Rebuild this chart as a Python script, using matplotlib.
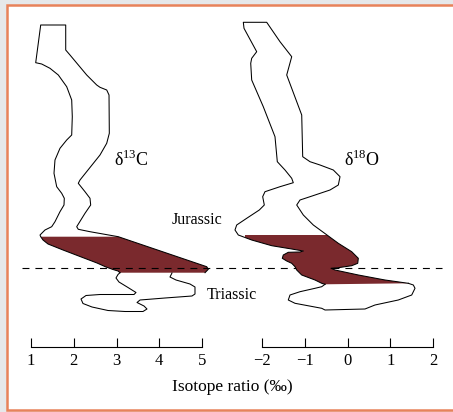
import matplotlib
matplotlib.use("Agg")
import matplotlib.pyplot as plt
from matplotlib.patches import Rectangle, Polygon
from matplotlib.transforms import blended_transform_factory

plt.rcParams['font.family'] = ['Liberation Serif', 'DejaVu Serif']
plt.rcParams['mathtext.fontset'] = 'custom'
plt.rcParams['mathtext.rm'] = 'Liberation Serif'
plt.rcParams['axes.unicode_minus'] = True

# level = stratigraphic position (arbitrary units, increasing downward)
# ---- delta 13C band ----
c_left_level = [25, 62.7, 64, 68.3, 75, 86.7, 100, 116.7, 135, 140, 148.3, 160, 173.3,
                186.7, 193.3, 198.3, 205, 211.7, 221.7, 226.7, 230, 235, 236.7,
                240, 244, 250, 256.5, 263, 267, 269.5, 271, 272.7]
c_left_val = [1.227, 1.110, 1.250, 1.444, 1.639, 1.835, 1.952, 1.966, 1.952, 1.835, 1.678,
              1.561, 1.538, 1.601, 1.718, 1.779, 1.772, 1.678, 1.561, 1.484, 1.327, 1.211,
              1.227, 1.281, 1.398, 1.749, 2.146, 2.544, 2.754, 2.918, 3.035, 3.082]
c_right_level = [25, 50, 55, 75, 85, 87.3, 90, 95, 133.3, 143.3, 155, 180, 183.3, 191.7,
                 198.3, 205, 213.3, 226.7, 229.3, 231.7, 236.7, 266.7, 269.3, 272.7]
c_right_val = [1.812, 1.812, 1.912, 2.303, 2.537, 2.614, 2.771, 2.825, 2.832, 2.771, 2.614,
               2.146, 2.106, 2.263, 2.380, 2.396, 2.263, 2.069, 2.106, 2.380, 3.042, 5.110,
               5.147, 5.070]
c_base_level = [272.7, 274.5, 278, 282, 287.5, 292.5, 294.5, 294.5, 294.5, 295.5, 299, 303.5,
                307, 310.5, 311.5, 311.5, 309, 306, 302.5, 300, 298, 296, 294, 287, 284,
                280, 277, 273]
c_base_val = [3.082, 3.035, 2.988, 3.058, 3.269, 3.456, 3.409, 3.082, 2.614, 2.287, 2.170,
              2.216, 2.427, 2.801, 3.199, 3.620, 3.713, 3.643, 3.480, 3.550, 4.135, 4.766,
              4.836, 4.836, 4.719, 4.392, 4.251, 4.298]
c_shade = (236.7, 272.7)

# ---- delta 18O band ----
o_left_level = [22.3, 28.3, 51.7, 58.3, 63.3, 80, 106.7, 136.7, 161.7, 170, 178.3, 182.7,
                186.7, 191.7, 196.7, 205, 210, 218.3, 225, 230, 235,
                240, 245.7, 249, 251, 252, 252.3, 255, 258.3, 261, 263.3, 266.7, 270, 275,
                280, 283.3, 284.3]
o_left_val = [-2.437, -2.421, -2.124, -2.241, -2.264, -2.241, -1.970, -1.696, -1.642,
              -1.462, -1.305, -1.268, -1.579, -1.930, -1.984, -1.946, -2.063, -2.358,
              -2.592, -2.632, -2.554,
              -2.241, -1.773, -1.305, -1.034, -1.111, -1.385, -1.502, -1.525, -1.422,
              -1.305, -1.228, -1.188, -1.071, -0.760, -0.603, -0.526]
o_right_level = [22.3, 41.7, 56.7, 75, 115, 156.7, 161.7, 165, 170, 176.7, 185, 190, 196.7,
                 200, 205, 215, 225, 235, 243.3, 251.7, 258.3, 263.3, 265.7, 267.7, 268.3,
                 270, 275, 280, 283.3]
o_right_val = [-1.890, -1.579, -1.305, -1.422, -1.071, -1.048, -0.877, -0.643, -0.332,
               -0.175, -0.215, -0.409, -0.877, -1.111, -1.188, -1.034, -0.800, -0.480,
               -0.215, 0.098, 0.253, 0.239, 0.098, -0.215, -0.386, -0.292, 0.253, 0.877,
               1.422]
o_base_level = [284.3, 286.7, 288.3, 291.7, 295, 300, 303.3, 308.3, 310, 309, 305, 300,
                295, 288.3, 285, 283.3]
o_base_val = [-0.526, -0.603, -0.760, -1.111, -1.345, -1.385, -1.228, -0.603, -0.526,
              0.409, 0.643, 1.188, 1.502, 1.579, 1.540, 1.422]
o_shade = (235, 284.3)

boundary_level = 268
c_ticks = [1, 2, 3, 4, 5]
o_ticks = [-2, -1, 0, 1, 2]

W, H = 453, 412
fig = plt.figure(figsize=(W / 100, H / 100), dpi=100)
fig.patch.set_facecolor('#e6e8ea')
frame = Rectangle((7 / W, 1 - 409.5 / H), 1.2, (409.5 - 5) / H,
                  transform=fig.transFigure, facecolor='white',
                  edgecolor='#e8825a', lw=1.8, zorder=-5)
fig.patches.append(frame)

PX = 42.75  # pixels per permil
axis_y = 347


def make_axes(x0_px, val0, lo, hi):
    left = x0_px + (lo - val0) * PX
    ax = fig.add_axes([left / W, (H - axis_y) / H, (hi - lo) * PX / W, axis_y / H])
    ax.set_xlim(lo, hi)
    ax.set_ylim(axis_y, 0)
    ax.patch.set_visible(False)
    for s in ['top', 'left', 'right']:
        ax.spines[s].set_visible(False)
    ax.spines['bottom'].set_linewidth(0.8)
    ax.set_yticks([])
    ax.tick_params(axis='x', direction='in', length=6.5, width=0.8, pad=4, labelsize=12)
    return ax


dark = '#7a292d'


def draw_band(ax, ll, lv, rl, rv, bl, bv, shade):
    top, bot = shade
    pts = [(v, l) for l, v in zip(ll, lv) if top <= l <= bot]
    pts += [(v, l) for l, v in reversed(list(zip(rl, rv))) if top <= l <= bot]
    ax.add_patch(Polygon(pts, closed=True, facecolor=dark, edgecolor='none', zorder=2))
    ax.plot(lv[::-1] + rv, ll[::-1] + rl, color='black', lw=0.75, zorder=3, clip_on=False)
    ax.plot(bv, bl, color='black', lw=0.75, zorder=3, clip_on=False)


ax1 = make_axes(31, 1, 0.5, 5.5)
ax1.spines['bottom'].set_bounds(1, 5)
ax1.set_xticks(c_ticks)
draw_band(ax1, c_left_level, c_left_val, c_right_level, c_right_val,
          c_base_level, c_base_val, c_shade)

ax2 = make_axes(262, -2, -2.4, 2.4)
ax2.spines['bottom'].set_bounds(-2, 2)
ax2.set_xticks(o_ticks)
draw_band(ax2, o_left_level, o_left_val, o_right_level, o_right_val,
          o_base_level, o_base_val, o_shade)

plt.rcParams['lines.scale_dashes'] = False
tr = blended_transform_factory(fig.transFigure, ax1.transData)
ax1.plot([22 / W, 442 / W], [boundary_level, boundary_level], transform=tr,
         color='black', lw=0.8, dashes=(5, 4.3), clip_on=False, zorder=4)

ax1.text(3.35, 160, r'δ$^{\mathregular{13}}$C', fontsize=13, ha='center', va='center')
ax2.text(0.34, 160, r'δ$^{\mathregular{18}}$O', fontsize=13, ha='center', va='center')
ax1.text(4.876, 220, 'Jurassic', fontsize=11.5, ha='center', va='center')
ax1.text(5.69, 295, 'Triassic', fontsize=11.5, ha='center', va='center', clip_on=False)
fig.text(232.5 / W, 1 - 387 / H, 'Isotope ratio (‰)', fontsize=12.5, ha='center', va='center')

fig.savefig('out.png', dpi=100, facecolor=fig.get_facecolor())
